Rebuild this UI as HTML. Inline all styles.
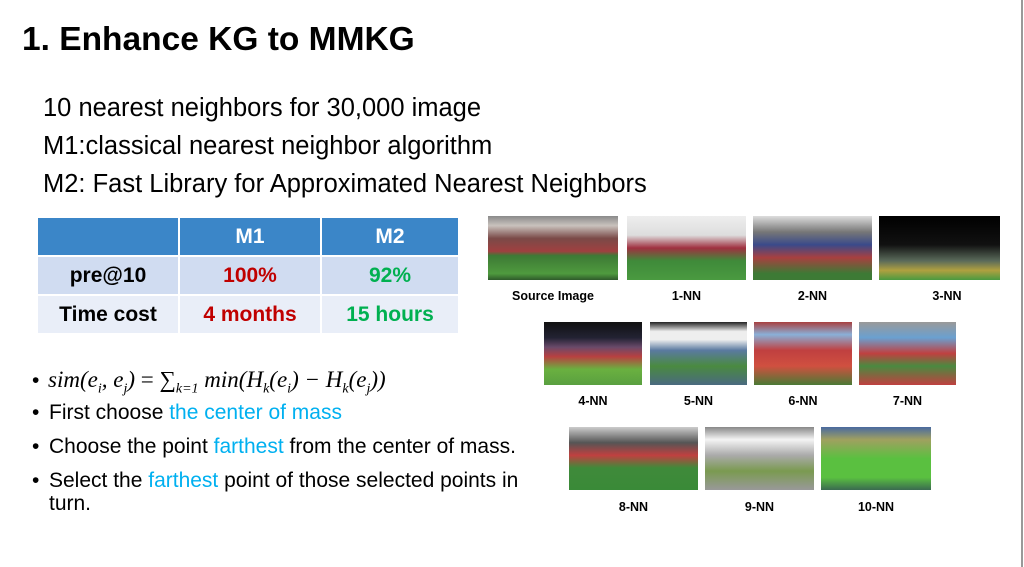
<!DOCTYPE html>
<html><head><meta charset="utf-8"><style>
body{margin:0;width:1024px;height:567px;background:#fff;position:relative;overflow:hidden;font-family:"Liberation Sans",Arial,sans-serif;color:#000}
.a{position:absolute;white-space:nowrap}
.t{font-size:25.5px;line-height:26px}
.b{font-size:21px;line-height:22px}
.c{color:#00b0f0}
.img{position:absolute;background:linear-gradient(#8a8a8a 0%,#c9c2bd 15%,#7a4a48 35%,#a04040 55%,#3d7a35 62%,#4f9a3e 90%,#2f5a2a 100%)}
.lb{position:absolute;font-size:12.5px;font-weight:bold;text-align:center}
td{border:2px solid #fff;text-align:center;font-weight:bold;font-size:21px;padding:0}
</style></head><body>
<div class="a" style="left:22px;top:20px;font-size:33.5px;font-weight:bold;line-height:40px">1. Enhance KG to MMKG</div>
<div class="a t" style="left:43px;top:95px">10 nearest neighbors for 30,000 image</div>
<div class="a t" style="left:43px;top:133px">M1:classical nearest neighbor algorithm</div>
<div class="a t" style="left:43px;top:171px">M2: Fast Library for Approximated Nearest Neighbors</div>
<table style="position:absolute;left:36px;top:216px;border-collapse:collapse;width:424px">
<tr style="background:#3b86c8;color:#fff;height:39px"><td style="width:140px"></td><td style="width:140px">M1</td><td>M2</td></tr>
<tr style="background:#d0dcf1;height:39px"><td>pre@10</td><td style="color:#c00000">100%</td><td style="color:#00b050">92%</td></tr>
<tr style="background:#e9eef8;height:39px"><td>Time cost</td><td style="color:#c00000">4 months</td><td style="color:#00b050">15 hours</td></tr>
</table>
<div class="a b" style="left:32px;top:370px">•</div>
<div class="a b" style="left:32px;top:402px">•</div>
<div class="a b" style="left:32px;top:436px">•</div>
<div class="a b" style="left:32px;top:470px">•</div>
<div class="a" style="left:48px;top:368px;font-size:23px;line-height:24px;font-family:'Liberation Serif',serif;font-style:italic">sim(e<sub style="font-size:14px">i</sub>, e<sub style="font-size:14px">j</sub>) <span style="font-style:normal">= ∑</span><sub style="font-size:14px">k=1</sub> min(H<sub style="font-size:14px">k</sub>(e<sub style="font-size:14px">i</sub>) − H<sub style="font-size:14px">k</sub>(e<sub style="font-size:14px">j</sub>))</div>
<div class="a b" style="left:49px;top:402px">First choose <span class="c">the center of mass</span></div>
<div class="a b" style="left:49px;top:436px">Choose the point <span class="c">farthest</span> from the center of mass.</div>
<div class="a b" style="left:49px;top:470px">Select the <span class="c">farthest</span> point of those selected points in</div>
<div class="a b" style="left:49px;top:493px">turn.</div>

<div class="img" style="left:488px;top:216px;width:130px;height:64px"></div>
<div class="img" style="left:627px;top:216px;width:119px;height:64px;background:linear-gradient(#eee 0%,#ddd 30%,#a03040 50%,#3f8a3a 70%,#4a9a40 100%)"></div>
<div class="img" style="left:753px;top:216px;width:119px;height:64px;background:linear-gradient(#ddd 0%,#777 25%,#3a4a8a 45%,#a84040 65%,#3d7a35 90%)"></div>
<div class="img" style="left:879px;top:216px;width:121px;height:64px;background:linear-gradient(#000 0%,#111 45%,#5a6a5a 70%,#b0a040 85%,#4a9a40 100%)"></div>
<div class="lb" style="left:488px;top:289px;width:130px">Source Image</div>
<div class="lb" style="left:627px;top:289px;width:119px">1-NN</div>
<div class="lb" style="left:753px;top:289px;width:119px">2-NN</div>
<div class="lb" style="left:879px;top:289px;width:136px">3-NN</div>

<div class="img" style="left:544px;top:322px;width:98px;height:63px;background:linear-gradient(#111 0%,#223 25%,#6a4a6a 40%,#b84040 55%,#6ab040 75%,#5aa040 100%)"></div>
<div class="img" style="left:650px;top:322px;width:97px;height:63px;background:linear-gradient(#222 0%,#eee 15%,#eee 28%,#5a7aa0 45%,#4a8a40 70%,#4a6a80 100%)"></div>
<div class="img" style="left:754px;top:322px;width:98px;height:63px;background:linear-gradient(#a84040 0%,#8ab0d8 20%,#c04040 45%,#d05040 70%,#4a7a35 100%)"></div>
<div class="img" style="left:859px;top:322px;width:97px;height:63px;background:linear-gradient(#999 0%,#6aa0d0 25%,#c04040 50%,#4a8a40 70%,#c04040 100%)"></div>
<div class="lb" style="left:544px;top:394px;width:98px">4-NN</div>
<div class="lb" style="left:650px;top:394px;width:97px">5-NN</div>
<div class="lb" style="left:754px;top:394px;width:98px">6-NN</div>
<div class="lb" style="left:859px;top:394px;width:97px">7-NN</div>

<div class="img" style="left:569px;top:427px;width:129px;height:63px;background:linear-gradient(#ccc 0%,#555 25%,#c04040 45%,#3f8a3a 65%,#3a8a38 100%)"></div>
<div class="img" style="left:705px;top:427px;width:109px;height:63px;background:linear-gradient(#888 0%,#f4f4f4 20%,#aaa 45%,#7a9a50 70%,#999 100%)"></div>
<div class="img" style="left:821px;top:427px;width:110px;height:63px;background:linear-gradient(#4a6aa0 0%,#a0a060 20%,#5ac040 50%,#5ac040 80%,#3a6a50 100%)"></div>
<div class="lb" style="left:569px;top:500px;width:129px">8-NN</div>
<div class="lb" style="left:705px;top:500px;width:109px">9-NN</div>
<div class="lb" style="left:821px;top:500px;width:110px">10-NN</div>
<div style="position:absolute;left:1021px;top:0;width:2px;height:567px;background:#999"></div>
</body></html>
